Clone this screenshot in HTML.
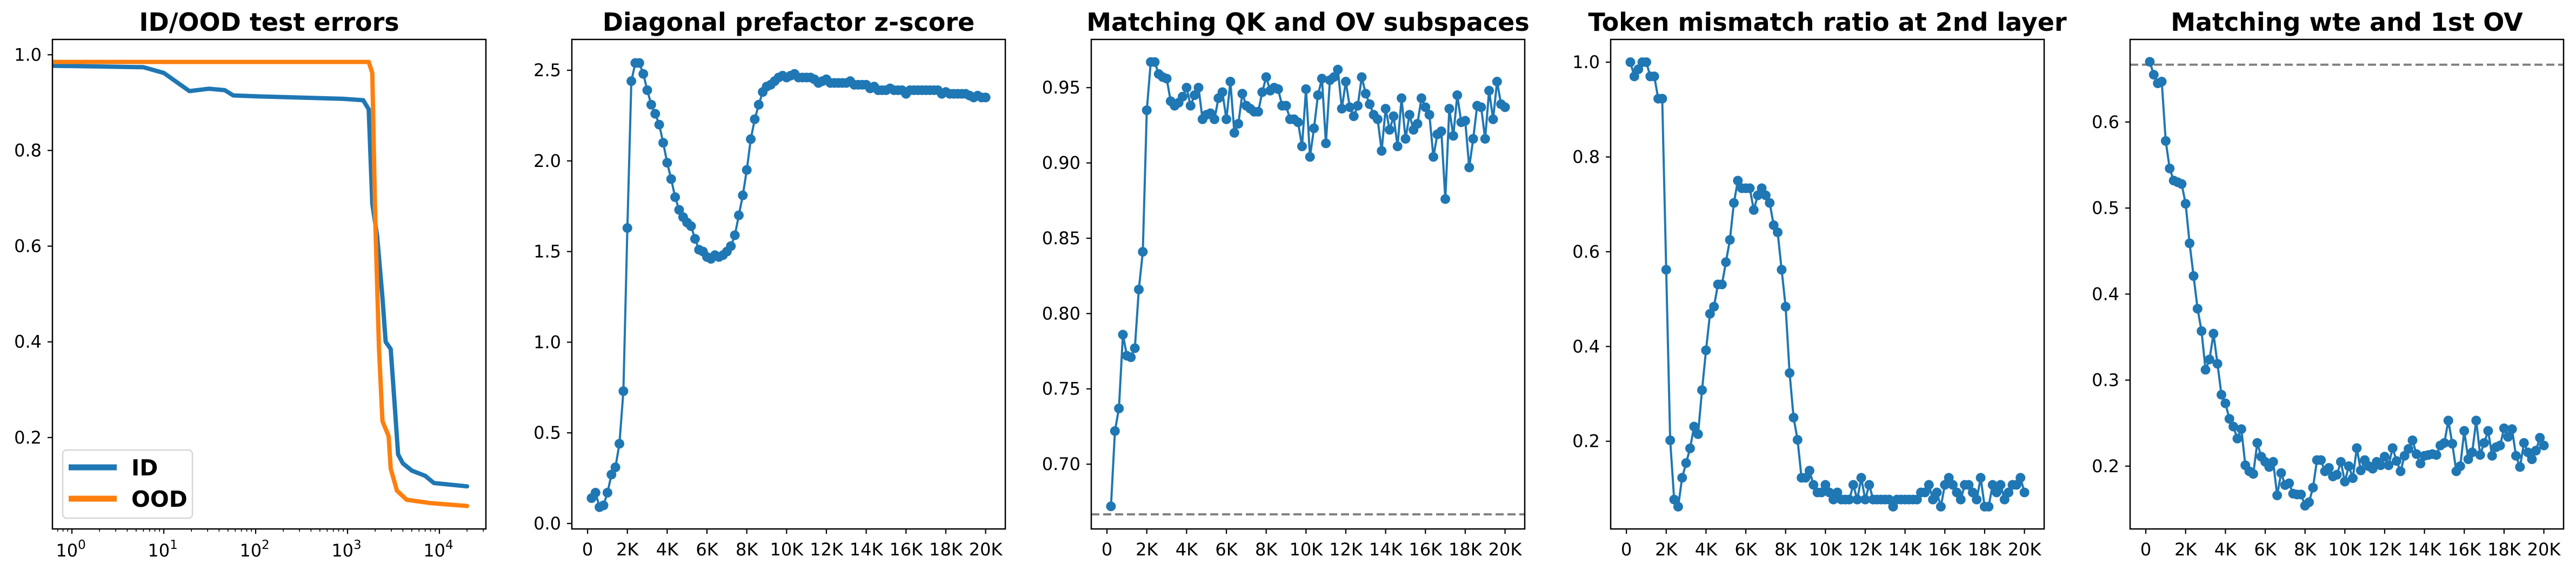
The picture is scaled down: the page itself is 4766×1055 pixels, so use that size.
<!DOCTYPE html>
<html><head><meta charset="utf-8">
<style>
html,body{margin:0;padding:0;background:#fff;}
svg{display:block;}
text{font-family:"DejaVu Sans","Liberation Sans",sans-serif;}
</style></head>
<body>
<svg id="fig" width="4766" height="1055" viewBox="0 0 4766 1055" xmlns="http://www.w3.org/2000/svg"></svg>
<script>
// ---------- DATA ----------
const idSteps = [0.62, 6, 10, 19, 31, 46, 57, 105, 890, 1480, 1700, 1860, 2100, 2400, 2600, 2950, 3230, 3550, 4000, 5000, 7000, 8700, 20000];
const idErrors = [0.977, 0.974, 0.962, 0.924, 0.929, 0.926, 0.915, 0.913, 0.908, 0.905, 0.886, 0.689, 0.621, 0.492, 0.40, 0.385, 0.279, 0.165, 0.146, 0.131, 0.120, 0.105, 0.098];
const oodSteps = [0.62, 10, 100, 1000, 1700, 1860, 2000, 2200, 2400, 2600, 2800, 2950, 3450, 4400, 8000, 20000];
const oodErrors = [0.985, 0.985, 0.985, 0.985, 0.985, 0.962, 0.659, 0.385, 0.234, 0.218, 0.203, 0.135, 0.089, 0.070, 0.063, 0.057];

const zscore = [0.14,0.17,0.09,0.10,0.17,0.27,0.31,0.44,0.73,1.63,
2.44,2.54,2.54,2.48,2.39,2.31,2.26,2.20,2.10,1.99,
1.90,1.80,1.73,1.69,1.66,1.64,1.57,1.51,1.50,1.47,
1.46,1.48,1.47,1.48,1.50,1.53,1.59,1.70,1.81,1.95,
2.12,2.23,2.31,2.38,2.41,2.42,2.44,2.46,2.47,2.46,
2.47,2.48,2.46,2.46,2.46,2.46,2.45,2.43,2.44,2.45,
2.43,2.43,2.43,2.43,2.43,2.44,2.42,2.42,2.42,2.42,
2.40,2.41,2.39,2.39,2.39,2.40,2.39,2.39,2.39,2.37,
2.39,2.39,2.39,2.39,2.39,2.39,2.39,2.39,2.37,2.38,
2.37,2.37,2.37,2.37,2.37,2.36,2.35,2.36,2.35,2.35];

const qkov = [0.672,0.722,0.737,0.786,0.772,0.771,0.777,0.816,0.841,0.935,
0.967,0.967,0.959,0.957,0.956,0.941,0.938,0.940,0.944,0.950,
0.938,0.945,0.950,0.929,0.932,0.933,0.929,0.943,0.947,0.929,
0.954,0.920,0.926,0.946,0.938,0.936,0.934,0.934,0.947,0.957,
0.948,0.950,0.949,0.938,0.938,0.929,0.929,0.927,0.911,0.949,
0.904,0.923,0.945,0.956,0.913,0.955,0.957,0.962,0.936,0.954,
0.937,0.931,0.938,0.957,0.946,0.939,0.932,0.929,0.908,0.936,
0.922,0.931,0.911,0.943,0.916,0.932,0.922,0.926,0.943,0.937,
0.932,0.904,0.919,0.921,0.876,0.936,0.918,0.945,0.927,0.928,
0.897,0.916,0.938,0.937,0.916,0.948,0.929,0.954,0.939,0.937];

const mismatch = [1.0,0.97,0.985,1.0,1.0,0.97,0.97,0.923,0.923,0.562,
0.202,0.077,0.062,0.123,0.154,0.185,0.231,0.215,0.308,0.392,
0.469,0.484,0.531,0.531,0.578,0.625,0.703,0.75,0.734,0.734,
0.734,0.688,0.719,0.734,0.719,0.703,0.656,0.641,0.562,0.484,
0.344,0.25,0.203,0.123,0.123,0.138,0.108,0.092,0.092,0.108,
0.092,0.077,0.092,0.077,0.077,0.077,0.108,0.077,0.123,0.077,
0.108,0.077,0.077,0.077,0.077,0.077,0.062,0.077,0.077,0.077,
0.077,0.077,0.077,0.092,0.092,0.108,0.077,0.092,0.062,0.108,
0.123,0.108,0.092,0.077,0.108,0.108,0.092,0.077,0.123,0.062,
0.062,0.108,0.092,0.108,0.077,0.092,0.108,0.108,0.123,0.092];

const wteOv = [0.67,0.655,0.645,0.647,0.578,0.546,0.532,0.530,0.528,0.505,
0.459,0.421,0.383,0.357,0.312,0.324,0.354,0.319,0.283,0.273,
0.255,0.246,0.232,0.243,0.201,0.194,0.191,0.227,0.211,0.205,
0.199,0.205,0.166,0.192,0.178,0.180,0.168,0.167,0.167,0.154,
0.158,0.175,0.207,0.207,0.194,0.198,0.188,0.190,0.205,0.182,
0.200,0.186,0.221,0.195,0.207,0.200,0.197,0.205,0.201,0.211,
0.201,0.221,0.206,0.194,0.212,0.220,0.230,0.214,0.203,0.212,
0.213,0.214,0.213,0.224,0.227,0.253,0.226,0.194,0.200,0.241,
0.208,0.216,0.253,0.213,0.227,0.241,0.212,0.222,0.224,0.244,
0.234,0.243,0.212,0.199,0.227,0.216,0.208,0.218,0.233,0.224];

const stepInterval = 200;
const linTicks = [0,2000,4000,6000,8000,10000,12000,14000,16000,18000,20000];
const linTickLabels = ["0","2K","4K","6K","8K","10K","12K","14K","16K","18K","20K"];

// ---------- RENDER ----------
const NS = "http://www.w3.org/2000/svg";
const svg = document.getElementById("fig");
function mk(tag, attrs, parent){
  const e = document.createElementNS(NS, tag);
  for (const k in attrs) e.setAttribute(k, attrs[k]);
  (parent||svg).appendChild(e);
  return e;
}
const TOP = 73, BOT = 979, W = 802;
const lefts = [97, 1058, 2019, 2980, 3941];
const BLUE = "#1f77b4", ORANGE = "#ff7f0e";

function axesFrame(i, title, name){
  const g = mk("g", {});
  
  
  const t = mk("text", {x: lefts[i]+W/2, y: 57, "text-anchor":"middle", "font-size":"46", "font-weight":"bold"}, g);
  t.textContent = title;
  
  
  return g;
}
function spines(g, i){
  const r = mk("rect", {x: lefts[i], y: TOP, width: W, height: BOT-TOP, fill:"none", stroke:"#000", "stroke-width":"2.5"}, g);
  
  
}
function yTicks(g, i, ys, labels, yf){
  ys.forEach((v, k) => {
    const y = yf(v);
    const l = mk("line", {x1: lefts[i]-9, x2: lefts[i], y1: y, y2: y, stroke:"#000", "stroke-width":"2.2"}, g);
    
    
    const t = mk("text", {x: lefts[i]-20, y: y+11, "text-anchor":"end", "font-size":"32"}, g);
    t.textContent = labels[k];
    
    
  });
}
function linX(i){ const xmin=-790, xmax=20990; return v => lefts[i] + (v-xmin)/(xmax-xmin)*W; }
function linYf(ymin, ymax){ return v => BOT - (v-ymin)/(ymax-ymin)*(BOT-TOP); }
function xTicksLin(g, i, xf){
  linTicks.forEach((v,k) => {
    const x = xf(v);
    const l = mk("line", {x1:x, x2:x, y1:BOT, y2:BOT+9, stroke:"#000","stroke-width":"2.2"}, g);
    
    
    const t = mk("text", {x:x, y:1028, "text-anchor":"middle", "font-size":"32"}, g);
    t.textContent = linTickLabels[k];
    
    
  });
}
function series(g, i, vals, xf, yf, name){
  const pts = vals.map((v,k) => [xf((k+1)*stepInterval), yf(v)]);
  const p = mk("polyline", {points: pts.map(p=>p.join(",")).join(" "), fill:"none", stroke:BLUE, "stroke-width":"4", "stroke-linejoin":"round"}, g);
  
  
  pts.forEach(pt => {
    const c = mk("circle", {cx: pt[0], cy: pt[1], r: 9, fill: BLUE}, g);
    
    
  });
}
function dashed(g, i, yv, yf){
  const y = yf(yv);
  const l = mk("line", {x1:lefts[i], x2:lefts[i]+W, y1:y, y2:y, stroke:"#808080","stroke-width":"4","stroke-dasharray":"15,7"}, g);
  
  
}

// Panel 1 (log x)
(function(){
  const i = 0;
  const g = axesFrame(i, "ID/OOD test errors", "test-errors-panel");
  const lmin = -0.212, lmax = 4.506;
  const xf = v => lefts[i] + (Math.log10(v)-lmin)/(lmax-lmin)*W;
  const yf = linYf(0.009, 1.032);
  yTicks(g, i, [0.2,0.4,0.6,0.8,1.0], ["0.2","0.4","0.6","0.8","1.0"], yf);
  for (let d=-1; d<=4; d++){
    for (let m=1; m<=9; m++){
      const v = m*Math.pow(10,d);
      const lv = Math.log10(v);
      if (lv < lmin || lv > lmax) continue;
      const x = xf(v), major = m===1;
      const l = mk("line", {x1:x,x2:x,y1:BOT,y2:BOT+(major?9:5),stroke:"#000","stroke-width":major?"2.2":"1.6"}, g);
      
      
      if (major){
        const t = mk("text", {x:x-2, y:1030, "text-anchor":"middle","font-size":"32"}, g);
        
        
        const a = mk("tspan", {}, t); a.textContent = "10";
        const b = mk("tspan", {dy:"-14","font-size":"23"}, t); b.textContent = String(d);
      }
    }
  }
  const clip = mk("clipPath", {id:"c0"}, g);
  mk("rect", {x:lefts[i], y:TOP, width:W, height:BOT-TOP}, clip);
  const idP = mk("polyline", {points: idSteps.map((s,k)=>xf(s)+","+yf(idErrors[k])).join(" "), fill:"none", stroke:BLUE, "stroke-width":"8", "stroke-linejoin":"round","stroke-linecap":"round","clip-path":"url(#c0)"}, g);
  
  
  const oodP = mk("polyline", {points: oodSteps.map((s,k)=>xf(s)+","+yf(oodErrors[k])).join(" "), fill:"none", stroke:ORANGE, "stroke-width":"8", "stroke-linejoin":"round","stroke-linecap":"round","clip-path":"url(#c0)"}, g);
  
  
  spines(g, i);
  const lg = mk("g", {}, g);
  
  
  mk("rect", {x:116, y:833, width:240, height:126, rx:7, fill:"#fff", "fill-opacity":"0.8", stroke:"#d6d6d6", "stroke-width":"2.5"}, lg);
  const e1 = mk("line", {x1:127,x2:216,y1:865,y2:865,stroke:BLUE,"stroke-width":"11"}, lg);
  
  
  const t1 = mk("text", {x:243, y:880, "font-size":"41","font-weight":"bold"}, lg); t1.textContent = "ID";
  
  
  const e2 = mk("line", {x1:127,x2:216,y1:923,y2:923,stroke:ORANGE,"stroke-width":"11"}, lg);
  
  
  const t2 = mk("text", {x:243, y:938, "font-size":"41","font-weight":"bold"}, lg); t2.textContent = "OOD";
  
  
})();

// Panel 2
(function(){
  const i = 1;
  const g = axesFrame(i, "Diagonal prefactor z-score", "zscore-panel");
  const xf = linX(i), yf = linYf(-0.03, 2.67);
  yTicks(g, i, [0,0.5,1,1.5,2,2.5], ["0.0","0.5","1.0","1.5","2.0","2.5"], yf);
  xTicksLin(g, i, xf);
  series(g, i, zscore, xf, yf, "zscore");
  spines(g, i);
})();

// Panel 3
(function(){
  const i = 2;
  const g = axesFrame(i, "Matching QK and OV subspaces", "qk-ov-panel");
  const xf = linX(i), yf = linYf(0.657, 0.982);
  yTicks(g, i, [0.70,0.75,0.80,0.85,0.90,0.95], ["0.70","0.75","0.80","0.85","0.90","0.95"], yf);
  xTicksLin(g, i, xf);
  dashed(g, i, 2/3, yf);
  series(g, i, qkov, xf, yf, "qk-ov");
  spines(g, i);
})();

// Panel 4
(function(){
  const i = 3;
  const g = axesFrame(i, "Token mismatch ratio at 2nd layer", "mismatch-panel");
  const xf = linX(i), yf = linYf(0.015, 1.048);
  yTicks(g, i, [0.2,0.4,0.6,0.8,1.0], ["0.2","0.4","0.6","0.8","1.0"], yf);
  xTicksLin(g, i, xf);
  series(g, i, mismatch, xf, yf, "mismatch");
  spines(g, i);
})();

// Panel 5
(function(){
  const i = 4;
  const g = axesFrame(i, "Matching wte and 1st OV", "wte-ov-panel");
  const xf = linX(i), yf = linYf(0.127, 0.696);
  yTicks(g, i, [0.2,0.3,0.4,0.5,0.6], ["0.2","0.3","0.4","0.5","0.6"], yf);
  xTicksLin(g, i, xf);
  dashed(g, i, 2/3, yf);
  series(g, i, wteOv, xf, yf, "wte-ov");
  spines(g, i);
})();
</script>
</body></html>
